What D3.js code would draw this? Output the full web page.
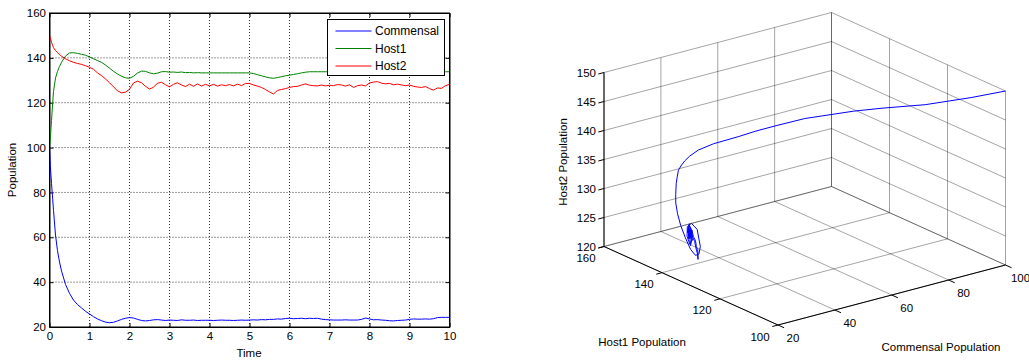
<!DOCTYPE html>
<html>
<head>
<meta charset="utf-8">
<script src="https://cdn.jsdelivr.net/npm/d3@7"></script>
<style>
    body { margin: 0; background: #fff; }
    svg text { font-family: "Liberation Sans", Arial, sans-serif; fill: #000; }
</style>
</head>
<body>
<svg id="chart" width="1029" height="360"></svg>
<script>
const time = [0, 0.02, 0.05, 0.08, 0.1, 0.15, 0.2, 0.25, 0.3,
    0.4, 0.5, 0.6, 0.7, 0.8, 0.9,
    1.0, 1.1, 1.2, 1.3, 1.4, 1.5, 1.6, 1.7, 1.8, 1.9,
    2.0, 2.1, 2.2, 2.3, 2.4, 2.5, 2.6, 2.7, 2.8, 2.9,
    3.0, 3.1, 3.2, 3.3, 3.4, 3.5, 3.6, 3.7, 3.8, 3.9,
    4.0, 4.1, 4.2, 4.3, 4.4, 4.5, 4.6, 4.7, 4.8, 4.9,
    5.0, 5.1, 5.2, 5.3, 5.4, 5.5, 5.6, 5.7, 5.8, 5.9,
    6.0, 6.1, 6.2, 6.3, 6.4, 6.5, 6.6, 6.7, 6.8, 6.9,
    7.0, 7.1, 7.2, 7.3, 7.4, 7.5, 7.6, 7.7, 7.8, 7.9,
    8.0, 8.1, 8.2, 8.3, 8.4, 8.5, 8.6, 8.7, 8.8, 8.9,
    9.0, 9.1, 9.2, 9.3, 9.4, 9.5, 9.6, 9.7, 9.8, 9.9,
    10.0];

const commensal = [100, 92, 84, 77, 72, 61, 54, 49, 45,
    39, 35, 32, 30, 28.5, 27,
    25.8, 24.6, 23.6, 22.8, 22.2, 21.9, 22.1, 22.7, 23.4, 23.9,
    24.2, 24.0, 23.4, 22.9, 22.7, 22.9, 23.2, 23.3, 23.1, 22.9,
    23.1, 23.0, 22.9, 23.2, 23.0, 23.0, 23.1, 22.9, 23.0, 23.0,
    23.0, 22.9, 23.0, 23.1, 23.0, 23.0, 22.9, 23.0, 23.1, 23.0,
    23.1, 23.2, 23.1, 23.3, 23.2, 23.4, 23.4, 23.6, 23.5, 23.8,
    23.9, 23.7, 23.8, 23.9, 23.7, 23.9, 23.8, 23.9, 23.5, 23.3,
    23.2, 23.1, 23.1, 23.1, 23.2, 23.1, 23.1, 23.1, 23.4, 24.0,
    23.6, 23.2, 23.3, 23.1, 23.0, 22.8, 22.7, 22.9, 23.0, 23.1,
    23.4, 23.6, 23.5, 23.5, 23.6, 23.5, 23.7, 24.2, 24.3, 24.3,
    24.3];

const host1 = [100, 104, 112, 120, 125, 131, 134, 136.2, 138,
    140.8, 142.2, 142.3, 142, 141.6, 141.2,
    140.4, 139.6, 138.8, 138, 136.8, 135.4, 134, 132.8, 131.8, 131.1,
    130.9, 131.8, 133.2, 134.1, 134, 133.3, 132.9, 133.2, 133.8, 133.9,
    133.6, 133.7, 133.5, 133.7, 133.4, 133.5, 133.3, 133.4, 133.3, 133.3,
    133.3, 133.3, 133.3, 133.3, 133.3, 133.3, 133.3, 133.3, 133.3, 133.3,
    133.3, 133.0, 132.5, 132.0, 131.5, 131.1, 130.9, 131.2, 131.6, 132.0,
    132.3, 132.6, 132.9, 133.3, 133.6, 133.8, 133.8, 133.8, 133.8, 133.8,
    133.8, 133.8, 133.8, 133.8, 133.8, 133.8, 133.8, 133.8, 133.8, 133.8,
    133.8, 133.8, 133.8, 133.8, 133.8, 133.8, 133.8, 133.8, 133.8, 133.8,
    133.8, 133.8, 133.8, 133.8, 133.8, 133.8, 133.8, 133.8, 133.8, 133.8,
    133.8];

const host2 = [150, 149, 147, 145.5, 144.5, 143.3, 142.3, 141.5, 140.7,
    139.6, 138.7, 138.0, 137.5, 137.1, 136.5,
    135.8, 134.9, 133.3, 132.1, 130.6, 128.9, 127.1, 125.3, 124.4, 124.7,
    126.0, 128.8, 129.6, 128.9, 127.3, 126.1, 126.9, 128.7, 129.1, 128.0,
    127.1, 128.2, 128.9, 127.9, 127.2, 128.3, 127.3, 128.4, 127.4, 128.2,
    127.5, 128.2, 127.4, 128.0, 127.6, 128.1, 127.5, 128.3, 127.6, 128.6,
    128.6, 127.9, 127.4, 126.8, 125.9, 124.8, 123.9, 125.5, 125.9, 126.3,
    126.8, 127.2, 127.3, 127.9, 128.4, 127.8, 127.6, 127.5, 127.9, 127.5,
    127.8, 127.6, 128.1, 127.9, 127.4, 128.0, 126.8, 127.6, 127.9, 127.5,
    128.8, 129.2, 129.4, 128.7, 128.4, 128.6, 128.0, 128.3, 127.9, 127.6,
    127.9, 127.3, 127.0, 126.8, 127.2, 126.3, 125.6, 126.6, 126.4, 127.6,
    128.2];

const seriesNames = ["Commensal", "Host1", "Host2"];
const seriesColors = ["#0000ff", "#008000", "#ff0000"];
const timeTicks = [0, 1, 2, 3, 4, 5, 6, 7, 8, 9, 10];
const popTicks = [20, 40, 60, 80, 100, 120, 140, 160];
const commensalTicks = [20, 40, 60, 80, 100];
const host1Ticks = [100, 120, 140, 160];
const host2Ticks = [120, 125, 130, 135, 140, 145, 150];

const svg = d3.select("#chart");

// ---------- left: populations over time ----------
const x = d3.scaleLinear().domain([0, 10]).range([49.5, 449.5]);
const y = d3.scaleLinear().domain([20, 160]).range([327, 13]);

const left = svg.append("g");

// dotted grid
left.append("g")
    .selectAll("line.vx")
    .data(timeTicks.slice(1, -1))
    .join("line")
    .attr("x1", d => x(d)).attr("x2", d => x(d))
    .attr("y1", y(20)).attr("y2", y(160));
left.append("g")
    .selectAll("line.hy")
    .data(popTicks.slice(1, -1))
    .join("line")
    .attr("x1", x(0)).attr("x2", x(10))
    .attr("y1", d => y(d)).attr("y2", d => y(d));
left.selectAll("g line")
    .attr("stroke", "#000")
    .attr("stroke-width", 0.8)
    .attr("stroke-dasharray", "1,2");

// axes with inward ticks
left.append("g")
    .attr("transform", `translate(0,${y(20)})`)
    .call(d3.axisBottom(x).tickValues(timeTicks).tickSize(-4).tickSizeOuter(0).tickPadding(5));
left.append("g")
    .attr("transform", `translate(${x(0)},0)`)
    .call(d3.axisLeft(y).tickValues(popTicks).tickSize(-4).tickSizeOuter(0).tickPadding(3.5));
left.append("g")
    .attr("transform", `translate(0,${y(160)})`)
    .call(d3.axisTop(x).tickValues(timeTicks).tickSize(-4).tickSizeOuter(0).tickFormat(""));
left.append("g")
    .attr("transform", `translate(${x(10)},0)`)
    .call(d3.axisRight(y).tickValues(popTicks).tickSize(-4).tickSizeOuter(0).tickFormat(""));
left.selectAll(".domain").attr("stroke", "#000");
left.selectAll(".tick line").attr("stroke", "#000");
left.selectAll(".tick text").attr("font-size", 11.5).attr("font-family", "Liberation Sans, Arial, sans-serif");

// series
const allSeries = [commensal, host1, host2];
const timeLine = d3.line()
    .x((d, i) => x(time[i]))
    .y(d => y(d));
allSeries.forEach((vals, k) => {
    left.append("path")
        .datum(vals)
        .attr("d", timeLine)
        .attr("fill", "none")
        .attr("stroke", seriesColors[k])
        .attr("stroke-width", 1);
});

// frame
left.append("rect")
    .attr("x", x(0)).attr("y", y(160))
    .attr("width", x(10) - x(0)).attr("height", y(20) - y(160))
    .attr("fill", "none").attr("stroke", "#000");

// legend
const legend = left.append("g").attr("transform", "translate(327.5,19.5)");
legend.append("rect")
    .attr("width", 117).attr("height", 56)
    .attr("fill", "#fff").attr("stroke", "#000");
seriesNames.forEach((name, k) => {
    const ly = 11.5 + k * 17.5;
    legend.append("line")
        .attr("x1", 8).attr("x2", 44)
        .attr("y1", ly).attr("y2", ly)
        .attr("stroke", seriesColors[k]);
    legend.append("text")
        .attr("x", 47.5).attr("y", ly)
        .attr("dy", "0.35em")
        .attr("font-size", 12)
        .text(name);
});

left.append("text")
    .attr("x", 249).attr("y", 353)
    .attr("dy", "0.35em")
    .attr("text-anchor", "middle")
    .attr("font-size", 11.5)
    .text("Time");
left.append("text")
    .attr("transform", "translate(12,170) rotate(-90)")
    .attr("dy", "0.35em")
    .attr("text-anchor", "middle")
    .attr("font-size", 11.5)
    .text("Population");

// ---------- right: phase portrait in 3D ----------
const origin = [604, 246.5];          // (C=20, H1=160, H2=120)
const cVec = [227.5, -60];
const hVec = [174, 78.5];
const zVec = [0, -174];
const cS = d3.scaleLinear().domain([20, 100]).range([0, 1]);
const hS = d3.scaleLinear().domain([160, 100]).range([0, 1]);
const zS = d3.scaleLinear().domain([120, 150]).range([0, 1]);

function proj(c, h, z) {
    const a = cS(c), b = hS(h), d = zS(z);
    return [origin[0] + a * cVec[0] + b * hVec[0] + d * zVec[0],
            origin[1] + a * cVec[1] + b * hVec[1] + d * zVec[1]];
}

const right = svg.append("g");
const segs = [];
// back wall at Host1 = 160
host2Ticks.forEach(z => segs.push([proj(20, 160, z), proj(100, 160, z)]));
commensalTicks.forEach(c => segs.push([proj(c, 160, 120), proj(c, 160, 150)]));
// side wall at Commensal = 100
host2Ticks.forEach(z => segs.push([proj(100, 160, z), proj(100, 100, z)]));
host1Ticks.forEach(h => segs.push([proj(100, h, 120), proj(100, h, 150)]));
// floor at Host2 = 120
commensalTicks.forEach(c => segs.push([proj(c, 160, 120), proj(c, 100, 120)]));
host1Ticks.forEach(h => segs.push([proj(20, h, 120), proj(100, h, 120)]));

right.append("g")
    .selectAll("line")
    .data(segs)
    .join("line")
    .attr("x1", d => d[0][0]).attr("y1", d => d[0][1])
    .attr("x2", d => d[1][0]).attr("y2", d => d[1][1])
    .attr("stroke", "#000")
    .attr("stroke-opacity", 0.45)
    .attr("stroke-width", 0.8);

// axis lines
const axisSegs = [
    [proj(20, 160, 120), proj(20, 160, 150)],
    [proj(20, 160, 120), proj(20, 100, 120)],
    [proj(20, 100, 120), proj(100, 100, 120)]
];
right.append("g")
    .selectAll("line")
    .data(axisSegs)
    .join("line")
    .attr("x1", d => d[0][0]).attr("y1", d => d[0][1])
    .attr("x2", d => d[1][0]).attr("y2", d => d[1][1])
    .attr("stroke", "#000")
    .attr("stroke-width", 1);

// ticks and tick labels
const tickG = right.append("g").attr("font-size", 11.5);
host2Ticks.forEach(z => {
    const p = proj(20, 160, z);
    tickG.append("line")
        .attr("x1", p[0]).attr("y1", p[1])
        .attr("x2", p[0] - 0.025 * cVec[0]).attr("y2", p[1] - 0.025 * cVec[1])
        .attr("stroke", "#000");
    tickG.append("text")
        .attr("x", p[0] - 8).attr("y", p[1])
        .attr("dy", "0.35em")
        .attr("text-anchor", "end")
        .text(z);
});
host1Ticks.forEach(h => {
    const p = proj(20, h, 120);
    tickG.append("line")
        .attr("x1", p[0]).attr("y1", p[1])
        .attr("x2", p[0] - 0.025 * cVec[0]).attr("y2", p[1] - 0.025 * cVec[1])
        .attr("stroke", "#000");
    tickG.append("text")
        .attr("x", p[0] - 18).attr("y", p[1] + 11.5)
        .attr("dy", "0.35em")
        .attr("text-anchor", "middle")
        .text(h);
});
commensalTicks.forEach(c => {
    const p = proj(c, 100, 120);
    tickG.append("line")
        .attr("x1", p[0]).attr("y1", p[1])
        .attr("x2", p[0] + 0.035 * hVec[0]).attr("y2", p[1] + 0.035 * hVec[1])
        .attr("stroke", "#000");
    tickG.append("text")
        .attr("x", p[0] + 15).attr("y", p[1] + 13)
        .attr("dy", "0.35em")
        .attr("text-anchor", "middle")
        .text(c);
});

// trajectory
const phaseLine = d3.line()
    .x((d, i) => proj(commensal[i], host1[i], host2[i])[0])
    .y((d, i) => proj(commensal[i], host1[i], host2[i])[1]);
right.append("path")
    .datum(time)
    .attr("d", phaseLine)
    .attr("fill", "none")
    .attr("stroke", "#0000ff")
    .attr("stroke-width", 1);

// axis titles
right.append("text")
    .attr("transform", "translate(563,162) rotate(-90)")
    .attr("dy", "0.35em")
    .attr("text-anchor", "middle")
    .attr("font-size", 11.5)
    .text("Host2 Population");
right.append("text")
    .attr("x", 642).attr("y", 342)
    .attr("dy", "0.35em")
    .attr("text-anchor", "middle")
    .attr("font-size", 11.5)
    .text("Host1 Population");
right.append("text")
    .attr("x", 941).attr("y", 347)
    .attr("dy", "0.35em")
    .attr("text-anchor", "middle")
    .attr("font-size", 11.5)
    .text("Commensal Population");
</script>
</body>
</html>
